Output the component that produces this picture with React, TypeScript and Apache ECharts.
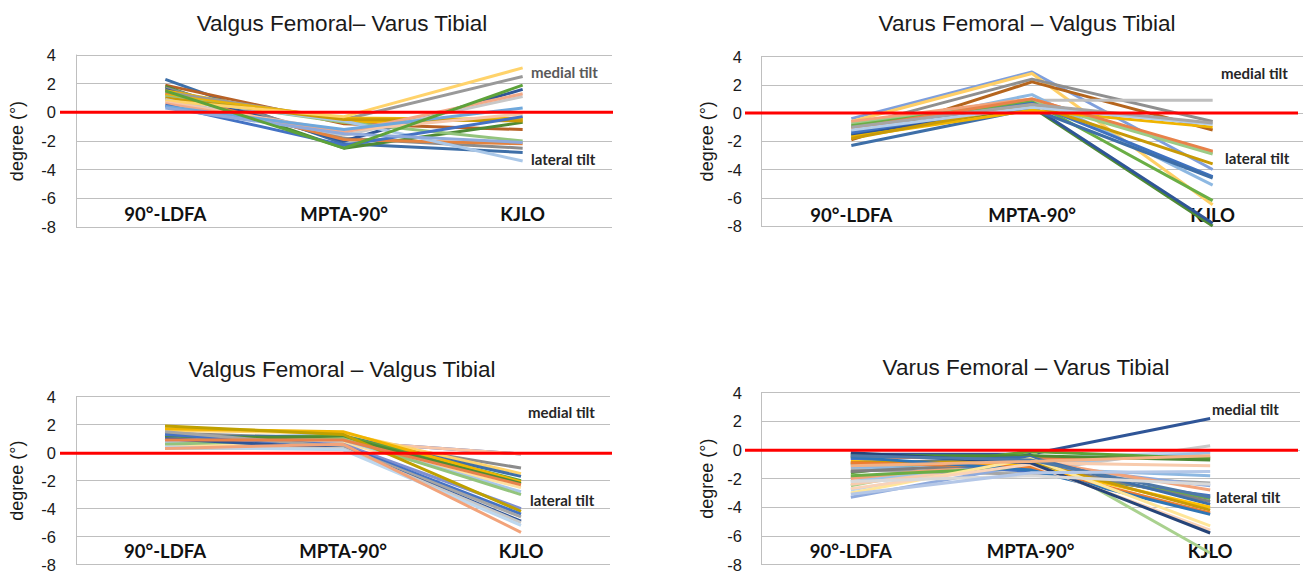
import React, { useEffect, useRef } from "react";
import * as echarts from "echarts";

const CATEGORIES = ["90°-LDFA", "MPTA-90°", "KJLO"];
const Y_MIN = -8;
const Y_MAX = 4;
const Y_STEP = 2;
const ZERO_LINE = [[0, 0], [1, 0]];

const TITLES = [
  "Valgus Femoral– Varus Tibial",
  "Varus Femoral – Valgus Tibial",
  "Valgus Femoral – Valgus Tibial",
  "Varus Femoral – Varus Tibial",
];

// Valgus Femoral – Varus Tibial
const VALGUS_VARUS: number[][] = [
  [2.3, -2.2, -2.8],
  [1.9, -0.8, -1.2],
  [1.8, -2.5, -0.7],
  [1.7, -1.8, -2.5],
  [1.6, -2.0, 1.6],
  [1.5, -0.7, -0.4],
  [1.4, -0.5, 2.5],
  [1.3, -1.9, -2.2],
  [1.2, -0.4, -0.5],
  [1.1, -0.7, -2.0],
  [1.0, -0.6, -3.4],
  [1.0, -0.5, -0.6],
  [0.9, -1.6, 1.1],
  [0.8, -0.3, 3.1],
  [0.7, -1.3, -0.1],
  [0.6, -1.4, 1.3],
  [0.5, -2.3, -0.3],
  [0.4, -1.2, 0.3],
  [0.3, -1.5, -2.1],
  [1.5, -2.5, 1.9],
];
const VALGUS_VARUS_COLORS = [
  "#3E6FA8", "#B86125", "#4E8A34", "#8C8C8C", "#2F5597", "#F0B400", "#999999",
  "#E3823E", "#E8B20C", "#93C47D", "#A9C7E8", "#C99A06", "#C8C8C8", "#FFD36B",
  "#F7C6A8", "#F2A988", "#4472C4", "#6FA8DC", "#8FAADC", "#5DA23A",
];

// Varus Femoral – Valgus Tibial
const VARUS_VALGUS: number[][] = [
  [-0.4, 2.9, -4.0],
  [-0.6, 2.8, -6.5],
  [-1.0, 2.4, -0.6],
  [-1.9, 2.2, -1.2],
  [-0.7, 0.9, 0.9],
  [-1.3, 1.3, -5.1],
  [-0.6, 1.0, -2.8],
  [-0.8, 0.8, -2.9],
  [-0.9, 0.8, -6.2],
  [-1.6, 0.4, -8.0],
  [-1.5, 0.5, -7.8],
  [-1.4, 0.7, -4.5],
  [-2.3, 0.3, -4.6],
  [-1.7, 0.2, -1.0],
  [-1.8, 0.6, -3.6],
  [-1.1, 1.0, -2.7],
  [-1.2, 0.4, -0.8],
  [-1.0, 0.6, -0.7],
];
const VARUS_VALGUS_COLORS = [
  "#7F9FDC", "#FFCF66", "#8F8F8F", "#B5651D", "#BFBFBF", "#8DB8E2", "#F2A37A",
  "#9CCB86", "#6AAE45", "#4E8A34", "#2F5597", "#3F72C0", "#3E6FA8", "#F0B400",
  "#C99A06", "#E8824A", "#B4CDE8", "#A5A5A5",
];

// Valgus Femoral – Valgus Tibial
const VALGUS_VALGUS: number[][] = [
  [1.2, 0.8, -0.1],
  [0.7, 0.8, -0.1],
  [1.4, 1.0, -1.1],
  [1.6, 1.4, -1.5],
  [1.1, 1.2, -1.7],
  [0.9, 1.2, -2.0],
  [1.7, 1.5, -2.1],
  [1.1, 1.1, -2.2],
  [0.5, 0.7, -2.5],
  [0.8, 0.9, -2.8],
  [0.6, 1.0, -3.0],
  [1.0, 0.6, -4.0],
  [1.9, 1.3, -4.2],
  [1.3, 0.5, -4.4],
  [1.5, 0.4, -4.6],
  [1.0, 0.3, -4.9],
  [0.3, 0.3, -5.0],
  [0.4, 0.2, -5.2],
  [0.3, 0.6, -5.7],
  [0.9, 0.9, -2.3],
];
const VALGUS_VALGUS_COLORS = [
  "#4F6FBF", "#F7C6A8", "#8C8C8C", "#FFD36B", "#3E6FA8", "#5DA23A", "#F0B400",
  "#4E8A34", "#FFE0A0", "#A9C7E8", "#93C47D", "#7F8FD0", "#BFA000", "#4472C4",
  "#A5A5A5", "#2F5597", "#C8C8C8", "#BDD7EE", "#F2A37A", "#E8824A",
];

// Varus Femoral – Varus Tibial
const VARUS_VARUS: number[][] = [
  [-0.3, -0.3, 2.2],
  [-2.5, -0.1, -7.2],
  [-1.9, -1.5, 0.3],
  [-2.8, -0.6, -0.1],
  [-2.2, -1.0, -0.2],
  [-0.5, -0.6, -0.5],
  [-1.6, -0.1, -0.6],
  [-0.4, -0.4, -0.7],
  [-2.4, -0.9, -1.1],
  [-1.2, -1.3, -1.8],
  [-1.4, -1.7, -2.3],
  [-3.3, -1.0, -2.5],
  [-2.0, -0.7, -2.8],
  [-0.6, -1.5, -3.2],
  [-1.8, -1.2, -3.4],
  [-1.5, -0.9, -3.6],
  [-1.0, -0.5, -3.8],
  [-0.8, -1.1, -4.0],
  [-0.9, -0.8, -4.2],
  [-0.9, -1.2, -4.4],
  [-0.5, -1.4, -4.5],
  [-3.0, -0.6, -5.3],
  [-2.7, -1.0, -5.6],
  [-0.2, -0.9, -5.8],
  [-0.4, -0.7, -3.3],
  [-2.2, -1.8, -2.4],
  [-1.1, -0.8, -0.4],
  [-3.1, -1.6, -1.5],
];
const VARUS_VARUS_COLORS = [
  "#2F5597", "#A9D18E", "#C9C9C9", "#BDD7EE", "#9DC3E6", "#E8824A", "#5DA23A",
  "#4E8A34", "#F8CBAD", "#8DB8E2", "#A5A5A5", "#8FAADC", "#F2A37A", "#4472C4",
  "#6AAE45", "#7F7F7F", "#3E6FA8", "#FFC000", "#C99A06", "#ED7D31", "#2E75B6",
  "#FFE699", "#FAD3B8", "#264478", "#4E79A7", "#D9D9D9", "#F4B183", "#B4C7E7",
];

const PANEL_DATA = [VALGUS_VARUS, VARUS_VALGUS, VALGUS_VALGUS, VARUS_VARUS];
const PANEL_COLORS = [VALGUS_VARUS_COLORS, VARUS_VALGUS_COLORS, VALGUS_VALGUS_COLORS, VARUS_VARUS_COLORS];

const LAYOUT = [
  { left: 76, top: 55, width: 536, height: 172, redLeft: 60, redRight: 613, titleX: 342, titleY: 12, nameGap: 50, labelMargin: 20, catMargin: -13, medial: [531, 72], lateral: [531, 159], medialColor: "#595959" },
  { left: 761, top: 56.5, width: 542, height: 169.5, redLeft: 745, redRight: 1298, titleX: 1027, titleY: 12, nameGap: 45, labelMargin: 19, catMargin: -11, medial: [1221, 73], lateral: [1225, 158], medialColor: "#262626" },
  { left: 76, top: 396.7, width: 534, height: 170, redLeft: 60, redRight: 612, titleX: 342, titleY: 358, nameGap: 50, labelMargin: 20, catMargin: -14, medial: [528, 412], lateral: [530, 500], medialColor: "#262626" },
  { left: 761, top: 392.7, width: 539, height: 173, redLeft: 745, redRight: 1298, titleX: 1026, titleY: 356, nameGap: 45, labelMargin: 19, catMargin: -14, medial: [1212, 409], lateral: [1216, 497], medialColor: "#262626" },
];

export default function App() {
  const ref = useRef<HTMLDivElement>(null);

  useEffect(() => {
    if (!ref.current) return;
    const chart = echarts.init(ref.current, undefined, { renderer: "svg" });

    const grid: any[] = [];
    const xAxis: any[] = [];
    const yAxis: any[] = [];
    const series: any[] = [];
    const title: any[] = [];
    const graphic: any[] = [];

    LAYOUT.forEach((L, i) => {
      grid.push({ left: L.left, top: L.top, width: L.width, height: L.height });
      xAxis.push({
        type: "category",
        gridIndex: i,
        data: CATEGORIES,
        boundaryGap: true,
        axisLine: { show: false },
        axisTick: { show: false },
        axisLabel: {
          interval: 0,
          margin: L.catMargin,
          verticalAlign: "middle",
          fontFamily: "Lato",
          fontWeight: "bold",
          fontSize: 18.5,
          color: "#111111",
        },
      });
      yAxis.push({
        type: "value",
        gridIndex: i,
        min: Y_MIN,
        max: Y_MAX,
        interval: Y_STEP,
        name: "degree (°)",
        nameLocation: "middle",
        nameGap: L.nameGap,
        nameTextStyle: { fontFamily: "Liberation Sans", fontSize: 18, color: "#1a1a1a" },
        axisLine: { show: true, lineStyle: { color: "#BFBFBF", width: 1 } },
        axisTick: { show: false },
        axisLabel: { margin: L.labelMargin, fontFamily: "Liberation Sans", fontSize: 16.5, color: "#1a1a1a" },
        splitLine: { show: true, lineStyle: { color: "#BFBFBF", width: 1 } },
      });
      title.push({
        text: TITLES[i],
        left: L.titleX,
        top: L.titleY,
        textAlign: "center",
        padding: 0,
        textStyle: { fontFamily: "Liberation Sans", fontSize: 22.5, fontWeight: "normal", color: "#1a1a1a" },
      });
      PANEL_DATA[i].forEach((vals, j) => {
        series.push({
          type: "line",
          xAxisIndex: i,
          yAxisIndex: i,
          data: vals,
          symbol: "none",
          silent: true,
          lineStyle: { width: 3, color: PANEL_COLORS[i][j % PANEL_COLORS[i].length] },
          itemStyle: { color: PANEL_COLORS[i][j % PANEL_COLORS[i].length] },
          z: 2,
        });
      });
      graphic.push({
        type: "text",
        x: L.medial[0],
        y: L.medial[1],
        style: { text: "medial tilt", fill: L.medialColor, fontFamily: "Lato", fontWeight: "bold", fontSize: 15, verticalAlign: "middle", align: "left" },
      });
      graphic.push({
        type: "text",
        x: L.lateral[0],
        y: L.lateral[1],
        style: { text: "lateral tilt", fill: "#262626", fontFamily: "Lato", fontWeight: "bold", fontSize: 15, verticalAlign: "middle", align: "left" },
      });
    });

    // reference (zero) lines on helper grids, slightly wider than the plot
    LAYOUT.forEach((L, i) => {
      const gi = 4 + i;
      grid.push({ left: L.redLeft, top: L.top, width: L.redRight - L.redLeft, height: L.height });
      xAxis.push({ type: "value", gridIndex: gi, min: 0, max: 1, show: false });
      yAxis.push({ type: "value", gridIndex: gi, min: Y_MIN, max: Y_MAX, show: false });
      series.push({
        type: "line",
        xAxisIndex: gi,
        yAxisIndex: gi,
        data: ZERO_LINE,
        symbol: "none",
        silent: true,
        lineStyle: { width: 3, color: "#FF0000" },
        z: 10,
      });
    });

    chart.setOption({
      animation: false,
      backgroundColor: "#ffffff",
      title,
      grid,
      xAxis,
      yAxis,
      series,
      graphic,
    });

    return () => chart.dispose();
  }, []);

  return (
    <div
      ref={ref}
      style={{ position: "fixed", left: 0, top: 0, width: 1303, height: 573, background: "#fff" }}
    />
  );
}
